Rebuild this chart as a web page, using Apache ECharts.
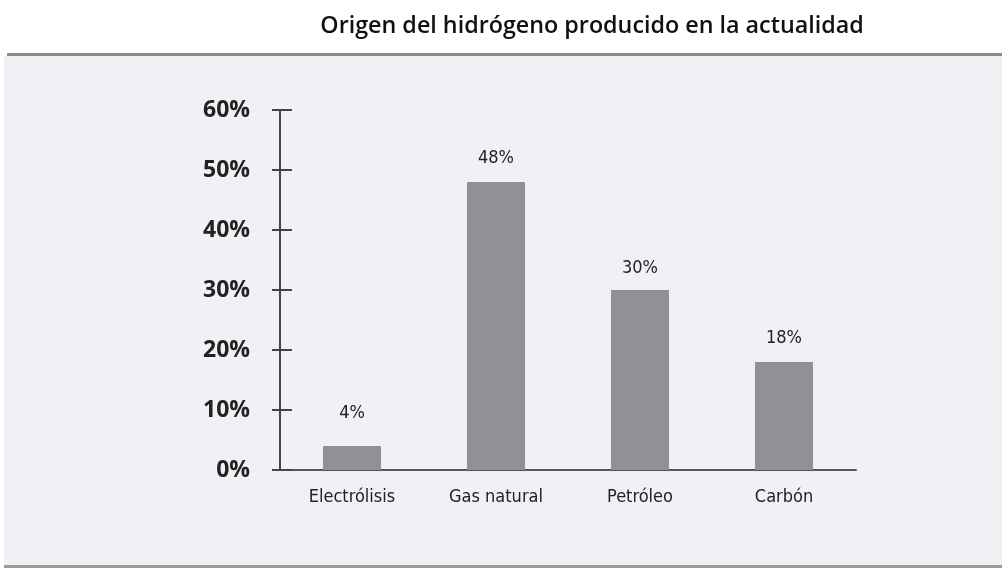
<!DOCTYPE html>
<html>
<head>
<meta charset="utf-8">
<script src="https://cdn.jsdelivr.net/npm/echarts@6/dist/echarts.min.js"></script>
<style>html,body{margin:0;padding:0;background:#fff}#c{width:1002px;height:568px}</style>
</head>
<body>
<div id="c"></div>
<script>
const titleText = 'Origen del hidrógeno producido en la actualidad';
const categories = ['Electrólisis', 'Gas natural', 'Petróleo', 'Carbón'];
const values = [4, 48, 30, 18];
const yTicks = [0, 10, 20, 30, 40, 50, 60];

const chart = echarts.init(document.getElementById('c'), null, {renderer: 'canvas'});
const barColor = '#8f9194';
const labelDist = [24, 15, 13, 15];
const condFont = '"DejaVu Sans Condensed", "Liberation Sans Narrow", "Noto Sans", sans-serif';

chart.setOption({
  backgroundColor: '#ffffff',
  animation: false,
  graphic: [
    {type: 'rect', z: -10, shape: {x: 4, y: 56, width: 998, height: 510}, style: {fill: '#eff1f4'}},
    {type: 'rect', z: -9, shape: {x: 7, y: 53, width: 995, height: 3}, style: {fill: '#8a8b8d'}},
    {type: 'rect', z: -9, shape: {x: 4, y: 565, width: 998, height: 3}, style: {fill: '#9a9b9d'}}
  ],
  title: {
    text: titleText,
    left: 587, top: 10, textAlign: 'center',
    textStyle: {fontFamily: 'Open Sans', fontWeight: 600, fontSize: 23.3, color: '#111'}
  },
  grid: {left: 280, right: 146, top: 110, bottom: 98, containLabel: false},
  xAxis: {
    type: 'category',
    data: categories,
    axisLine: {show: true, lineStyle: {color: '#555', width: 2}},
    axisTick: {show: false},
    axisLabel: {
      margin: 18, color: '#222', fontSize: 18,
      fontFamily: condFont
    }
  },
  yAxis: [{
    type: 'value', min: 0, max: 60, interval: 10,
    axisLine: {show: true, lineStyle: {color: '#444', width: 2}},
    axisTick: {show: true, length: 8, lineStyle: {color: '#444', width: 2}},
    splitLine: {show: false},
    axisLabel: {
      margin: 30, color: '#222', fontSize: 23, fontWeight: 'bold',
      fontFamily: 'Open Sans',
      formatter: v => yTicks.includes(v) ? v + '%' : ''
    }
  }, {
    type: 'value', min: 0, max: 60, interval: 10, position: 'left',
    axisLine: {show: false},
    axisTick: {show: true, inside: true, length: 12, lineStyle: {color: '#444', width: 2}},
    splitLine: {show: false},
    axisLabel: {show: false}
  }],
  series: [{
    type: 'bar',
    data: values.map((v, i) => ({
      value: v,
      label: {distance: labelDist[i]}
    })),
    barWidth: 58,
    itemStyle: {color: barColor},
    label: {
      show: true, position: 'top',
      formatter: p => p.value + '%',
      color: '#222', fontSize: 18, fontFamily: condFont
    }
  }]
});
</script>
</body>
</html>
